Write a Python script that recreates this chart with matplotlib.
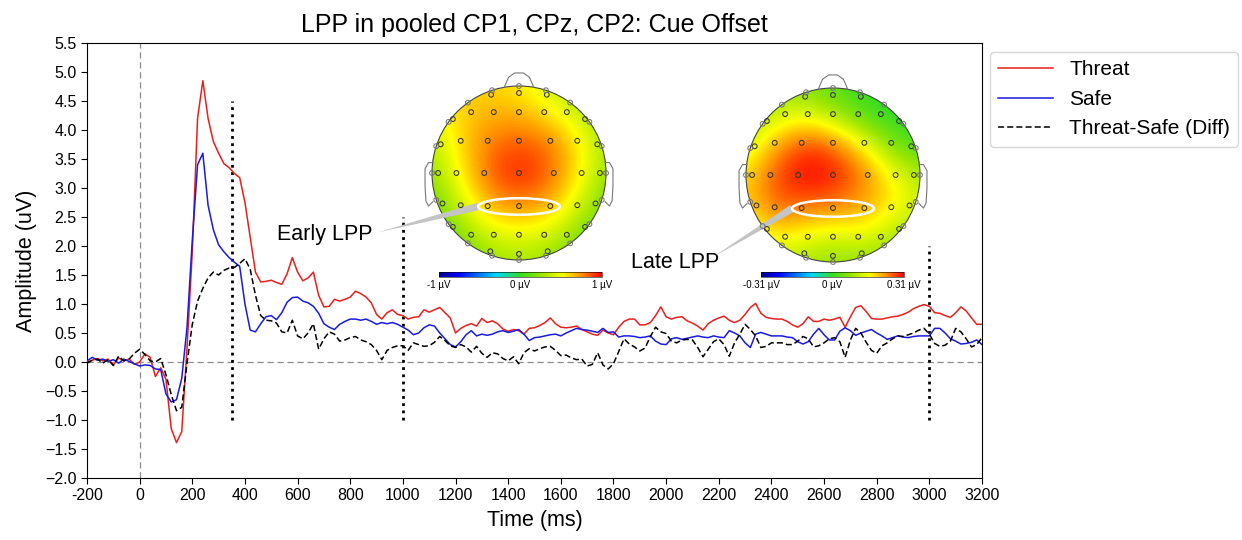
import numpy as np
import matplotlib
matplotlib.use('Agg')
import matplotlib.pyplot as plt
from matplotlib.colors import LinearSegmentedColormap, Normalize
from matplotlib.patches import Circle, Ellipse
from matplotlib.cm import ScalarMappable

plt.rcParams['font.family'] = ['Liberation Sans', 'DejaVu Sans']

# ERP samples every 20 ms, -200 .. 3200 ms (pooled CP1, CPz, CP2)
times = np.arange(-200, 3201, 20)

threat = [
    0.00, 0.03, 0.06, 0.02, 0.05, -0.05, 0.07, 0.02, 0.05, -0.04,
    0.00, 0.14, 0.08, -0.25, -0.10, -0.30, -1.15, -1.39, -1.20, 0.25,
    1.90, 4.20, 4.85, 4.20, 3.80, 3.60, 3.42, 3.35, 3.25, 3.18,
    2.75, 2.15, 1.55, 1.38, 1.39, 1.41, 1.37, 1.34, 1.52, 1.80,
    1.55, 1.40, 1.45, 1.55, 1.15, 0.95, 0.96, 1.08, 1.05, 1.08,
    1.12, 1.22, 1.18, 1.12, 1.02, 0.82, 0.74, 0.85, 0.90, 0.82,
    0.80, 0.74, 0.77, 0.78, 0.90, 0.86, 0.90, 0.94, 0.85, 0.76,
    0.50, 0.58, 0.63, 0.66, 0.62, 0.75, 0.68, 0.71, 0.66, 0.57,
    0.53, 0.56, 0.54, 0.48, 0.58, 0.59, 0.63, 0.68, 0.76, 0.66,
    0.60, 0.59, 0.60, 0.62, 0.56, 0.52, 0.48, 0.46, 0.55, 0.50,
    0.47, 0.60, 0.70, 0.74, 0.74, 0.64, 0.64, 0.68, 0.80, 0.95,
    0.78, 0.74, 0.77, 0.78, 0.71, 0.67, 0.62, 0.55, 0.66, 0.72,
    0.76, 0.79, 0.72, 0.68, 0.72, 0.82, 0.94, 1.01, 0.84, 0.77,
    0.75, 0.74, 0.74, 0.70, 0.64, 0.60, 0.66, 0.78, 0.70, 0.70,
    0.74, 0.72, 0.74, 0.77, 0.60, 0.78, 0.94, 0.97, 0.87, 0.75,
    0.74, 0.74, 0.76, 0.78, 0.79, 0.82, 0.86, 0.92, 0.96, 0.99,
    0.96, 0.85, 0.84, 0.80, 0.77, 0.85, 0.95, 0.88, 0.76, 0.65,
    0.65,
]

safe = [
    0.02, 0.08, 0.03, 0.05, 0.01, 0.04, -0.02, 0.05, 0.01, -0.03,
    -0.07, -0.05, -0.06, -0.12, -0.13, -0.55, -0.69, -0.65, -0.28, 0.60,
    2.10, 3.40, 3.60, 2.70, 2.28, 2.02, 1.90, 1.80, 1.72, 1.65,
    1.00, 0.55, 0.52, 0.66, 0.78, 0.80, 0.73, 0.85, 1.03, 1.11,
    1.12, 1.05, 1.02, 0.96, 0.84, 0.66, 0.60, 0.56, 0.65, 0.70,
    0.74, 0.74, 0.72, 0.74, 0.70, 0.65, 0.68, 0.66, 0.68, 0.65,
    0.60, 0.55, 0.47, 0.50, 0.59, 0.64, 0.62, 0.50, 0.40, 0.30,
    0.26, 0.35, 0.47, 0.54, 0.45, 0.48, 0.46, 0.48, 0.52, 0.54,
    0.51, 0.53, 0.56, 0.48, 0.37, 0.42, 0.43, 0.45, 0.47, 0.48,
    0.45, 0.50, 0.54, 0.58, 0.56, 0.55, 0.53, 0.51, 0.58, 0.51,
    0.52, 0.43, 0.45, 0.45, 0.44, 0.42, 0.43, 0.45, 0.36, 0.31,
    0.30, 0.40, 0.42, 0.39, 0.41, 0.43, 0.45, 0.43, 0.42, 0.45,
    0.43, 0.42, 0.54, 0.50, 0.45, 0.33, 0.25, 0.48, 0.51, 0.48,
    0.45, 0.45, 0.45, 0.43, 0.42, 0.35, 0.31, 0.35, 0.48, 0.58,
    0.47, 0.38, 0.38, 0.53, 0.59, 0.54, 0.46, 0.50, 0.53, 0.56,
    0.50, 0.45, 0.39, 0.42, 0.45, 0.43, 0.42, 0.44, 0.45, 0.45,
    0.45, 0.58, 0.58, 0.50, 0.40, 0.36, 0.31, 0.32, 0.34, 0.38,
    0.30,
]

diff = [
    -0.02, 0.03, 0.05, -0.02, 0.04, -0.06, 0.10, 0.02, 0.05, 0.15,
    0.22, 0.13, 0.02, 0.00, 0.06, -0.22, -0.56, -0.84, -0.78, -0.02,
    0.65, 1.05, 1.27, 1.45, 1.55, 1.50, 1.58, 1.62, 1.63, 1.70,
    1.78, 1.60, 1.15, 0.80, 0.72, 0.71, 0.67, 0.52, 0.50, 0.72,
    0.45, 0.40, 0.50, 0.66, 0.22, 0.40, 0.52, 0.48, 0.36, 0.38,
    0.42, 0.44, 0.38, 0.35, 0.30, 0.20, 0.04, 0.20, 0.25, 0.28,
    0.28, 0.20, 0.33, 0.30, 0.27, 0.28, 0.34, 0.44, 0.37, 0.28,
    0.25, 0.30, 0.26, 0.17, 0.27, 0.15, 0.08, 0.16, 0.14, 0.06,
    0.02, 0.09, -0.03, 0.16, 0.23, 0.19, 0.23, 0.26, 0.27, 0.20,
    0.11, 0.12, 0.07, 0.04, 0.05, -0.07, -0.04, 0.16, -0.05, -0.12,
    -0.03, 0.18, 0.40, 0.31, 0.26, 0.19, 0.24, 0.44, 0.60, 0.52,
    0.49, 0.36, 0.33, 0.38, 0.39, 0.38, 0.25, 0.09, 0.22, 0.35,
    0.40, 0.30, 0.10, 0.33, 0.48, 0.65, 0.56, 0.45, 0.25, 0.27,
    0.33, 0.33, 0.33, 0.30, 0.30, 0.36, 0.44, 0.40, 0.26, 0.28,
    0.33, 0.40, 0.42, 0.35, 0.08, 0.38, 0.58, 0.50, 0.34, 0.20,
    0.15, 0.28, 0.33, 0.40, 0.45, 0.44, 0.47, 0.50, 0.55, 0.58,
    0.48, 0.32, 0.27, 0.29, 0.36, 0.58, 0.52, 0.40, 0.26, 0.30,
    0.42,
]

# analysis window markers (ms) and how far up each dotted line reaches
window_marks = [350, 1000, 3000]
window_tops = [4.5, 2.5, 2.0]

xticks = list(range(-200, 3201, 200))

# scalp maps on a coarse 7x7 grid (rows frontal -> occipital), in uV
early_lpp_map = [
    [0.45, 0.60, 0.60, 0.55, 0.40, 0.25, 0.15],
    [0.45, 0.62, 0.68, 0.68, 0.58, 0.40, 0.22],
    [0.35, 0.60, 0.80, 0.86, 0.80, 0.58, 0.28],
    [0.25, 0.55, 0.85, 0.95, 0.85, 0.58, 0.25],
    [0.15, 0.42, 0.72, 0.80, 0.72, 0.45, 0.15],
    [0.08, 0.25, 0.45, 0.50, 0.45, 0.25, 0.08],
    [0.00, 0.10, 0.25, 0.30, 0.25, 0.10, 0.00],
]
late_lpp_map = [
    [0.06, 0.08, 0.06, 0.03, 0.00, -0.02, -0.02],
    [0.08, 0.12, 0.15, 0.10, 0.03, 0.00, -0.02],
    [0.12, 0.22, 0.28, 0.26, 0.17, 0.06, 0.02],
    [0.18, 0.27, 0.31, 0.30, 0.25, 0.16, 0.09],
    [0.19, 0.26, 0.26, 0.25, 0.22, 0.18, 0.12],
    [0.13, 0.19, 0.16, 0.14, 0.16, 0.11, 0.07],
    [0.06, 0.10, 0.09, 0.07, 0.07, 0.06, 0.03],
]
early_range = 1.0
late_range = 0.31

W, H = 1242, 540
fig = plt.figure(figsize=(W / 100, H / 100), dpi=100)
ax = fig.add_axes([87 / W, 1 - 478 / H, (982 - 87) / W, (478 - 43) / H])

ax.axhline(0, color='#8c8c8c', lw=0.9, ls=(0, (5, 3)), zorder=1)
ax.axvline(0, color='#8c8c8c', lw=0.9, ls=(0, (5, 3)), zorder=1)

ax.plot(times, threat, color='#e8201c', lw=1.1, label='Threat', zorder=3)
ax.plot(times, safe, color='#1a1ae0', lw=1.1, label='Safe', zorder=3)
ax.plot(times, diff, color='black', lw=1.1, ls=(0, (4, 2)),
        label='Threat-Safe (Diff)', zorder=3)

for x, top in zip(window_marks, window_tops):
    ax.vlines(x, -1.0, top, colors='black', linestyles=(0, (1, 1.6)), lw=2.0, zorder=2)

ax.set_xlim(-200, 3200)
ax.set_ylim(-2.0, 5.5)
ax.set_xticks(xticks)
ax.set_xticklabels([str(v) for v in xticks])
ax.set_yticks(np.arange(-2.0, 5.51, 0.5))
ax.tick_params(labelsize=11.5, length=4, width=0.8)
ax.set_xlabel('Time (ms)', fontsize=15.5, labelpad=5)
ax.set_ylabel('Amplitude (uV)', fontsize=15.5, labelpad=6)
ax.set_title('LPP in pooled CP1, CPz, CP2: Cue Offset', fontsize=18, pad=8)

ax.legend(loc='upper left', bbox_to_anchor=(1.009, 0.979), borderaxespad=0,
          fontsize=15, handlelength=2.6, edgecolor='#cccccc')

ax.text(703, 2.2, 'Early LPP', fontsize=15.5, ha='center', va='center')
ax.text(2034, 1.71, 'Late LPP', fontsize=15.5, ha='center', va='center')

cmap = LinearSegmentedColormap.from_list('topo', [
    (0.00, '#00008c'), (0.12, '#0000ff'), (0.35, '#00d7ff'),
    (0.50, '#33dd22'), (0.63, '#9ae600'), (0.76, '#ffff00'),
    (0.88, '#ff8c00'), (1.00, '#ff0000')])

# electrode layout in head-radius units (nose up)
inner_sites = [
    (-0.32, 0.90), (0, 0.92), (0.32, 0.90),
    (-0.55, 0.70), (-0.29, 0.70), (0, 0.70), (0.29, 0.70), (0.55, 0.70),
    (-0.76, 0.62), (0.76, 0.62),
    (-0.67, 0.37), (-0.36, 0.37), (0, 0.37), (0.36, 0.37), (0.67, 0.37),
    (-0.90, 0.33), (0.90, 0.33),
    (-0.72, 0), (-0.40, 0), (0, 0), (0.40, 0), (0.72, 0), (-0.93, 0), (0.93, 0),
    (-0.67, -0.37), (-0.36, -0.38), (0, -0.38), (0.36, -0.38), (0.67, -0.37),
    (-0.88, -0.35), (0.88, -0.35),
    (-0.55, -0.71), (-0.29, -0.71), (0, -0.71), (0.29, -0.71), (0.55, -0.71),
    (-0.76, -0.62), (0.76, -0.62),
    (-0.33, -0.90), (0, -0.93), (0.33, -0.90),
]
ring_angles = np.deg2rad(np.arange(0, 360, 18))

R = 87.0  # head radius in pixels


def draw_topo(cx, cy, field, lim, bar_left, bar_right, bar_labels, text_end):
    half = 112
    tax = fig.add_axes([(cx - half) / W, 1 - (cy + half) / H, 2 * half / W, 2 * half / H])
    ext = 7 / 6
    im = tax.imshow(field, extent=(-ext, ext, -ext, ext), cmap=cmap,
                    vmin=-lim, vmax=lim, interpolation='bicubic', origin='upper')
    im.set_clip_path(Circle((0, 0), 1.0, transform=tax.transData))
    tax.set_xlim(-half / R, half / R)
    tax.set_ylim(-half / R, half / R)
    tax.axis('off')

    head = Circle((0, 0), 1.0, fc='none', ec='#444444', lw=0.8)
    tax.add_patch(head)
    nose_x = [-0.17, -0.12, -0.05, 0.05, 0.12, 0.17]
    nose_y = [0.985, 1.10, 1.15, 1.15, 1.10, 0.985]
    tax.plot(nose_x, nose_y, color='#777777', lw=0.8)
    ear_x = np.array([0.99, 1.04, 1.08, 1.08, 1.07, 1.04, 0.99])
    ear_y = np.array([0.12, 0.12, 0.05, -0.15, -0.32, -0.38, -0.33])
    tax.plot(ear_x, ear_y, color='#777777', lw=0.8)
    tax.plot(-ear_x, ear_y, color='#777777', lw=0.8)

    xs, ys = zip(*inner_sites)
    tax.scatter(xs, ys, s=12, facecolors='none', edgecolors='#333333', linewidths=0.75, zorder=4)
    tax.scatter(np.cos(ring_angles), np.sin(ring_angles), s=12, facecolors='none',
                edgecolors='#777777', linewidths=0.75, zorder=4)

    tax.add_patch(Ellipse((0, -0.385), 0.94, 0.19, fc='none', ec='white', lw=1.8, zorder=5))

    tax.annotate('', xy=text_end, xycoords=ax.transData, xytext=(-0.47, -0.385),
                 textcoords='data', annotation_clip=False,
                 arrowprops=dict(arrowstyle='wedge,tail_width=0.55,shrink_factor=0.5',
                                 fc='#c4c4c4', ec='none', shrinkA=0, shrinkB=2))

    cax = fig.add_axes([bar_left / W, 1 - 277 / H, (bar_right - bar_left) / W, 5 / H])
    cb = fig.colorbar(ScalarMappable(norm=Normalize(-lim, lim), cmap=cmap),
                      cax=cax, orientation='horizontal')
    cb.set_ticks([-lim, 0, lim], labels=bar_labels)
    cb.ax.tick_params(length=0, labelsize=7, pad=2)
    cb.outline.set_linewidth(0.4)


draw_topo(519, 173, early_lpp_map, early_range, 439, 602,
          ['-1 µV', '0 µV', '1 µV'], (893, 2.22))
draw_topo(833, 175, late_lpp_map, late_range, 761, 904,
          ['-0.31 µV', '0 µV', '0.31 µV'], (2167, 1.78))

fig.savefig('out.png', dpi=100)
